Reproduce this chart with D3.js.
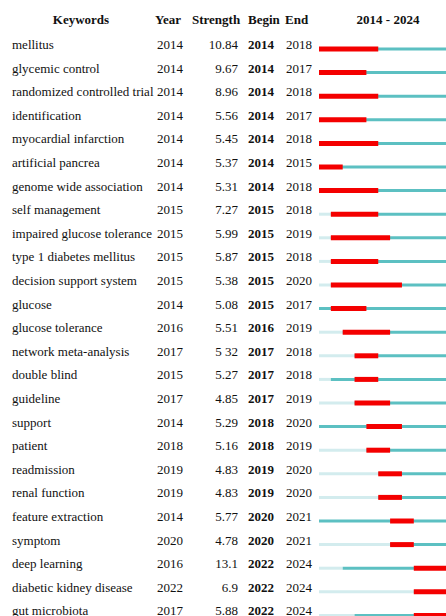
<!DOCTYPE html>
<html>
<head>
<meta charset="utf-8">
<script src="https://cdn.jsdelivr.net/npm/d3@7"></script>
<style>
  html, body { margin: 0; padding: 0; background: #ffffff; }
  svg { display: block; }
  text { font-family: "Liberation Serif", "Times New Roman", serif; font-size: 13px; fill: #111; }
</style>
</head>
<body>
<svg id="chart" width="446" height="616"></svg>
<script>
const keywords = ["mellitus","glycemic control","randomized controlled trial","identification","myocardial infarction","artificial pancrea","genome wide association","self management","impaired glucose tolerance","type 1 diabetes mellitus","decision support system","glucose","glucose tolerance","network meta-analysis","double blind","guideline","support","patient","readmission","renal function","feature extraction","symptom","deep learning","diabetic kidney disease","gut microbiota"];
const years = [2014,2014,2014,2014,2014,2014,2014,2015,2015,2015,2015,2014,2016,2017,2015,2017,2014,2018,2019,2019,2014,2020,2016,2022,2017];
const strengths = ["10.84","9.67","8.96","5.56","5.45","5.37","5.31","7.27","5.99","5.87","5.38","5.08","5.51","5 32","5.27","4.85","5.29","5.16","4.83","4.83","5.77","4.78","13.1","6.9","5.88"];
const begins = [2014,2014,2014,2014,2014,2014,2014,2015,2015,2015,2015,2015,2016,2017,2017,2017,2018,2018,2019,2019,2020,2020,2022,2022,2022];
const ends = [2018,2017,2018,2017,2018,2015,2018,2018,2019,2018,2020,2017,2019,2018,2018,2019,2020,2019,2020,2020,2021,2021,2024,2024,2024];
const headers = ["Keywords","Year","Strength","Begin","End"];
const rangeStart = 2014, rangeEnd = 2024;

const svg = d3.select("#chart");
const rows = keywords.map((k, i) => ({k, year: years[i], s: strengths[i], b: begins[i], e: ends[i], i}));

const y = d3.scaleLinear().domain([0, 1]).range([49, 72.6]);
const x = d3.scaleLinear().domain([rangeStart, rangeEnd + 1]).range([319, 319 + 11 * 11.85]);

// header
const hy = 24;
const hdr = svg.append("g").attr("font-weight", "bold");
hdr.append("text").attr("x", 81).attr("y", hy).attr("text-anchor", "middle").attr("font-weight","bold").text(headers[0]);
hdr.append("text").attr("x", 155).attr("y", hy).attr("font-weight","bold").text(headers[1]);
hdr.append("text").attr("x", 192).attr("y", hy).attr("font-weight","bold").text(headers[2]);
hdr.append("text").attr("x", 248).attr("y", hy).attr("font-weight","bold").text(headers[3]);
hdr.append("text").attr("x", 285).attr("y", hy).attr("font-weight","bold").text(headers[4]);
hdr.append("text").attr("x", 388).attr("y", hy).attr("text-anchor", "middle").attr("font-weight","bold").text(rangeStart + " - " + rangeEnd);

const g = svg.append("g").selectAll("g.row").data(rows).join("g").attr("class", "row")
  .attr("transform", d => `translate(0,${y(d.i)})`);

g.append("text").attr("x", 12).attr("y", 0).text(d => d.k);
g.append("text").attr("x", 157).attr("y", 0).text(d => d.year);
g.append("text").attr("x", 238).attr("y", 0).attr("text-anchor", "end").text(d => d.s);
g.append("text").attr("x", 248).attr("y", 0).attr("font-weight", "bold").text(d => d.b);
g.append("text").attr("x", 286).attr("y", 0).text(d => d.e);

// light segment (before keyword appeared)
g.filter(d => d.year > rangeStart).append("line")
  .attr("x1", x(rangeStart)).attr("x2", d => x(d.year))
  .attr("y1", 0).attr("y2", 0)
  .attr("stroke", "#d3ecee").attr("stroke-width", 3);
// cyan segment
g.append("line")
  .attr("x1", d => x(d.year)).attr("x2", x(rangeEnd + 1))
  .attr("y1", 0).attr("y2", 0)
  .attr("stroke", "#5cc0c2").attr("stroke-width", 3);
// red burst
g.append("line")
  .attr("x1", d => x(d.b)).attr("x2", d => x(d.e + 1))
  .attr("y1", 0).attr("y2", 0)
  .attr("stroke", "#f40000").attr("stroke-width", 5);
</script>
</body>
</html>
